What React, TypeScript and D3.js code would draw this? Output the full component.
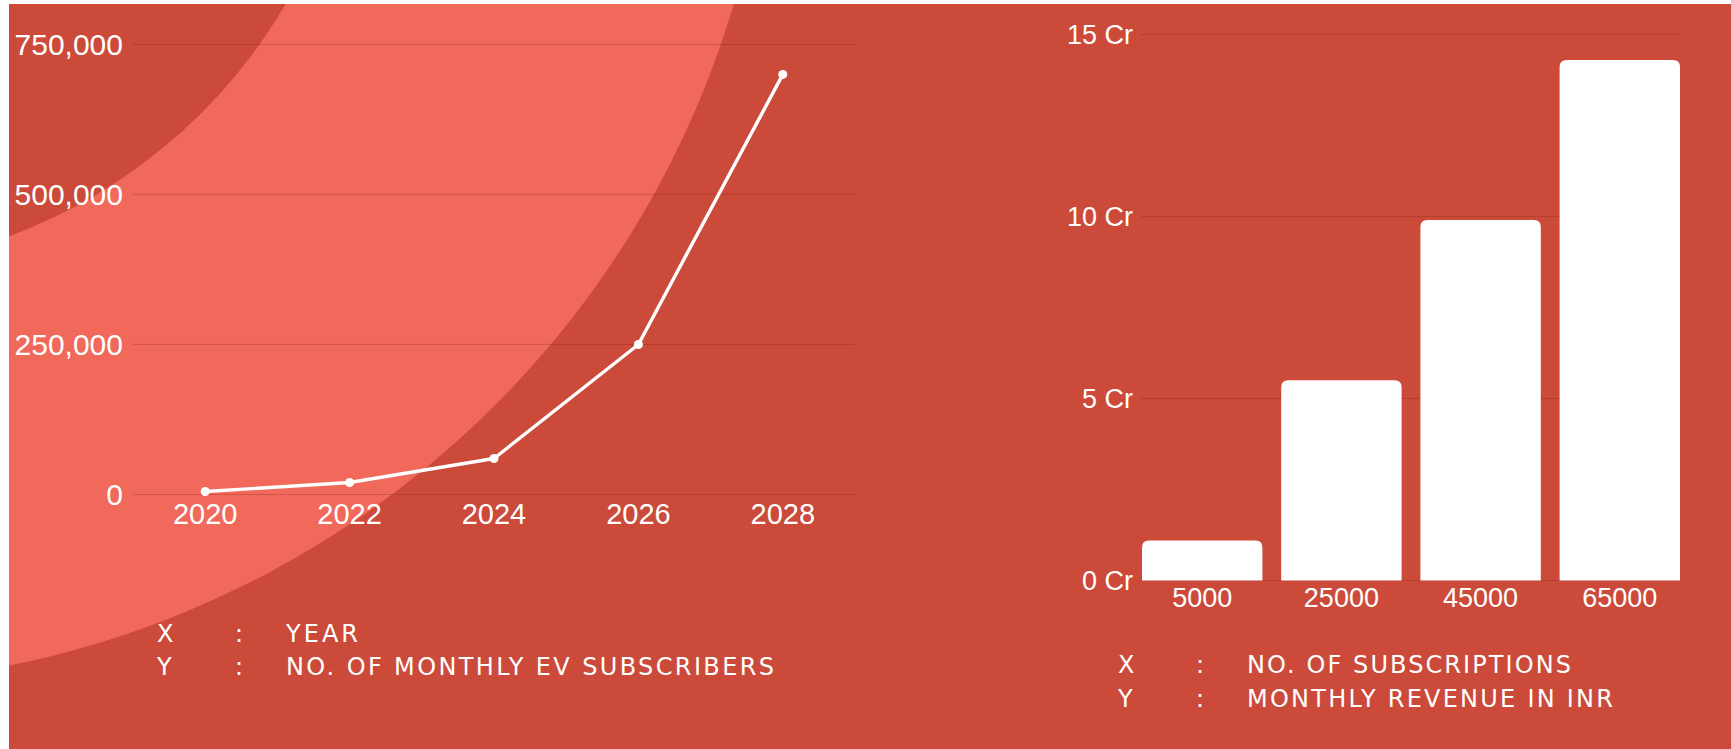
import React from 'react';
import * as d3 from 'd3';

const years = ['2020', '2022', '2024', '2026', '2028'];
const subscribers = [5000, 20000, 60000, 250000, 700000];
const subscriberTicks = [0, 250000, 500000, 750000];

const subscriptionCounts = ['5000', '25000', '45000', '65000'];
const revenueCr = [1.1, 5.5, 9.9, 14.3];
const revenueTicks = [0, 5, 10, 15];

const leftLegend = [
  { key: 'X', label: 'YEAR', width: 72 },
  { key: 'Y', label: 'NO. OF MONTHLY EV SUBSCRIBERS', width: 488 },
];
const rightLegend = [
  { key: 'X', label: 'NO. OF SUBSCRIPTIONS', width: 324 },
  { key: 'Y', label: 'MONTHLY REVENUE IN INR', width: 366 },
];

const W = 1731;
const H = 749;
const BG = '#CC4A3A';
const RING = '#F0695A';
const GRID = 'rgba(90,20,10,0.22)';
const TICK_FONT = '"Liberation Sans", Arimo, Arial, sans-serif';
const LEGEND_FONT = '"DejaVu Sans", "Open Sans", sans-serif';

function roundedTopBar(x: number, y: number, w: number, h: number, r: number) {
  const rr = Math.min(r, h, w / 2);
  return `M${x},${y + h} L${x},${y + rr} Q${x},${y} ${x + rr},${y} L${x + w - rr},${y} Q${x + w},${y} ${x + w},${y + rr} L${x + w},${y + h} Z`;
}

export default function App() {
  // Left line chart scales
  const xL = d3.scalePoint<string>().domain(years).range([133, 855]).padding(0.5);
  const yL = d3.scaleLinear().domain([0, 750000]).range([494.5, 44.4]);
  const line = d3
    .line<number>()
    .x((_, i) => xL(years[i]) as number)
    .y((d) => yL(d));
  const fmt = d3.format(',');

  // Right bar chart scales
  const xR = d3.scaleBand<string>().domain(subscriptionCounts).range([1142, 1680]).paddingInner(0.135).paddingOuter(0);
  const yR = d3.scaleLinear().domain([0, 15]).range([580.5, 34.4]);

  const ring = d3.arc()({
    innerRadius: 537,
    outerRadius: 951,
    startAngle: 0,
    endAngle: Math.PI * 2,
  } as any) as string;

  return (
    <svg width={W} height={H} style={{ position: 'absolute', left: 0, top: 0, display: 'block' }}>
      <defs>
        <clipPath id="bgclip">
          <rect x={9} y={4} width={W - 9} height={H - 4} />
        </clipPath>
      </defs>
      <rect x={0} y={0} width={W} height={H} fill="#fff" />
      <rect x={9} y={4} width={W - 9} height={H - 4} fill={BG} />
      <g clipPath="url(#bgclip)">
        <path d={ring} transform="translate(-178,-267)" fill={RING} />
      </g>

      {/* Left chart */}
      <g>
        {subscriberTicks.map((t) => (
          <line key={t} x1={133} x2={855} y1={yL(t)} y2={yL(t)} stroke={GRID} strokeWidth={1} />
        ))}
        {subscriberTicks.map((t) => (
          <text
            key={'l' + t}
            x={123}
            y={yL(t)}
            dy="0.36em"
            textAnchor="end"
            fill="#fff"
            fontFamily={TICK_FONT}
            fontSize={30}
          >
            {fmt(t)}
          </text>
        ))}
        {years.map((y) => (
          <text
            key={y}
            x={xL(y)}
            y={524}
            textAnchor="middle"
            fill="#fff"
            fontFamily={TICK_FONT}
            fontSize={29}
          >
            {y}
          </text>
        ))}
        <path d={line(subscribers) as string} fill="none" stroke="#fff" strokeWidth={3.4} strokeLinejoin="round" />
        {subscribers.map((v, i) => (
          <circle key={i} cx={xL(years[i])} cy={yL(v)} r={4.5} fill="#fff" />
        ))}
      </g>

      {/* Right chart */}
      <g>
        {revenueTicks.map((t) => (
          <line key={t} x1={1141} x2={1680} y1={yR(t)} y2={yR(t)} stroke={GRID} strokeWidth={1} />
        ))}
        {revenueTicks.map((t) => (
          <text
            key={'r' + t}
            x={1133}
            y={yR(t)}
            dy="0.36em"
            textAnchor="end"
            fill="#fff"
            fontFamily={TICK_FONT}
            fontSize={27}
          >
            {t + ' Cr'}
          </text>
        ))}
        {subscriptionCounts.map((c, i) => {
          const x = xR(c) as number;
          const w = xR.bandwidth();
          const y = yR(revenueCr[i]);
          const h = yR(0) - y;
          return <path key={c} d={roundedTopBar(x, y, w, h, 7)} fill="#fff" />;
        })}
        {subscriptionCounts.map((c) => (
          <text
            key={'x' + c}
            x={(xR(c) as number) + xR.bandwidth() / 2}
            y={607}
            textAnchor="middle"
            fill="#fff"
            fontFamily={TICK_FONT}
            fontSize={27}
          >
            {c}
          </text>
        ))}
      </g>

      {/* Legends */}
      {leftLegend.map((r, i) => (
        <g key={'ll' + i} fill="#fff" fontFamily={LEGEND_FONT} fontSize={24}>
          <text x={157} y={642 + i * 33}>{r.key}</text>
          <text x={235} y={642 + i * 33}>:</text>
          <text x={286} y={642 + i * 33} textLength={r.width} lengthAdjust="spacing">
            {r.label}
          </text>
        </g>
      ))}
      {rightLegend.map((r, i) => (
        <g key={'rl' + i} fill="#fff" fontFamily={LEGEND_FONT} fontSize={24}>
          <text x={1118} y={673 + i * 34}>{r.key}</text>
          <text x={1196} y={673 + i * 34}>:</text>
          <text x={1247} y={673 + i * 34} textLength={r.width} lengthAdjust="spacing">
            {r.label}
          </text>
        </g>
      ))}
    </svg>
  );
}
